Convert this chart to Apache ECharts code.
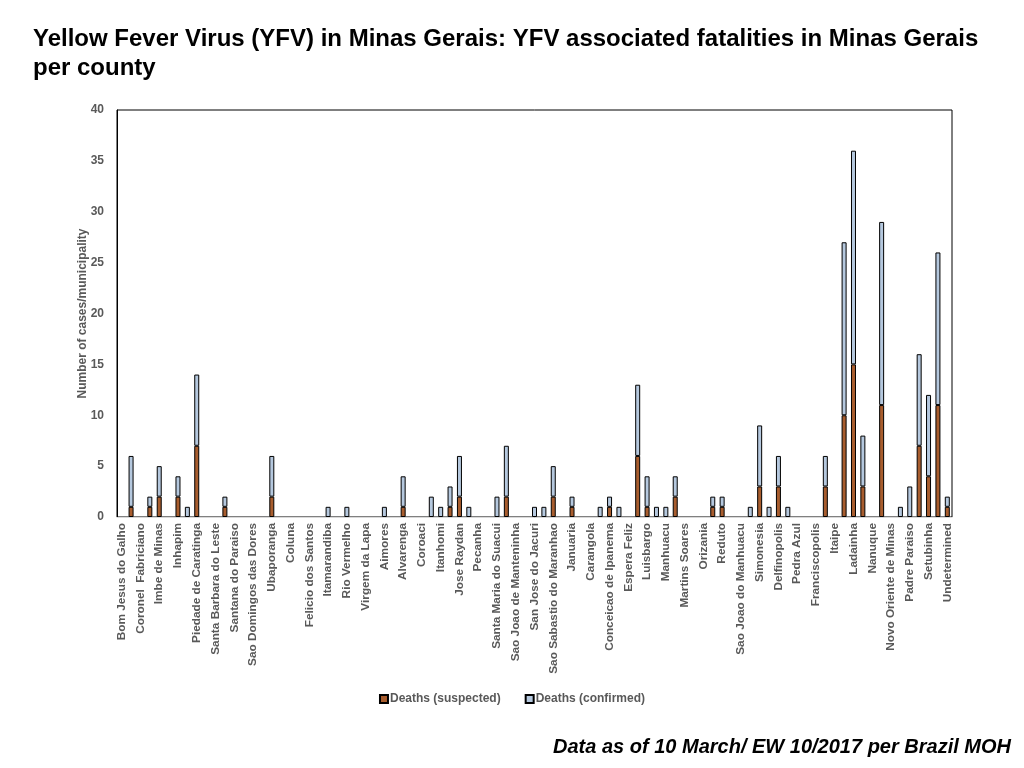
<!DOCTYPE html>
<html>
<head>
<meta charset="utf-8">
<title>YFV fatalities in Minas Gerais per county</title>
<script src="https://cdn.jsdelivr.net/npm/echarts@6/dist/echarts.min.js"></script>
<style>
    html, body { margin: 0; padding: 0; background: #fff; }
    #chart { width: 1024px; height: 768px; }
</style>
</head>
<body>
<div id="chart"></div>
<script>
// Counties (only every other name is printed on the original axis; '' = name not shown)
const counties = [
    'Bom Jesus do Galho', '', 'Coronel  Fabriciano', '', 'Imbe de Minas', '',
    'Inhapim', '', 'Piedade de Caratinga', '', 'Santa Barbara do Leste', '',
    'Santana do Paraiso', '', 'Sao Domingos das Dores', '', 'Ubaporanga', '',
    'Coluna', '', 'Felicio dos Santos', '', 'Itamarandiba', '',
    'Rio Vermelho', '', 'Virgem da Lapa', '', 'Aimores', '',
    'Alvarenga', '', 'Coroaci', '', 'Itanhomi', '',
    'Jose Raydan', '', 'Pecanha', '', 'Santa Maria do Suacui', '',
    'Sao Joao de Manteninha', '', 'San Jose do Jacuri', '', 'Sao Sabastio do Maranhao', '',
    'Januaria', '', 'Carangola', '', 'Conceicao de Ipanema', '',
    'Espera Feliz', '', 'Luisbargo', '', 'Manhuacu', '',
    'Martins Soares', '', 'Orizania', '', 'Reduto', '',
    'Sao Joao do Manhuacu', '', 'Simonesia', '', 'Delfinopolis', '',
    'Pedra Azul', '', 'Franciscopolis', '', 'Itaipe', '',
    'Ladainha', '', 'Nanuque', '', 'Novo Oriente de Minas', '',
    'Padre Paraiso', '', 'Setubinha', '', 'Undetermined'
];

// Deaths (suspected)
const deathsSuspected = [
    0, 1, 0, 1, 2, 0, 2, 0, 7, 0,
    0, 1, 0, 0, 0, 0, 2, 0, 0, 0,
    0, 0, 0, 0, 0, 0, 0, 0, 0, 0,
    1, 0, 0, 0, 0, 1, 2, 0, 0, 0,
    0, 2, 0, 0, 0, 0, 2, 0, 1, 0,
    0, 0, 1, 0, 0, 6, 1, 0, 0, 2,
    0, 0, 0, 1, 1, 0, 0, 0, 3, 0,
    3, 0, 0, 0, 0, 3, 0, 10, 15, 3,
    0, 11, 0, 0, 0, 7, 4, 11, 1
];

// Deaths (confirmed)
const deathsConfirmed = [
    0, 5, 0, 1, 3, 0, 2, 1, 7, 0,
    0, 1, 0, 0, 0, 0, 4, 0, 0, 0,
    0, 0, 1, 0, 1, 0, 0, 0, 1, 0,
    3, 0, 0, 2, 1, 2, 4, 1, 0, 0,
    2, 5, 0, 0, 1, 1, 3, 0, 1, 0,
    0, 1, 1, 1, 0, 7, 3, 1, 1, 2,
    0, 0, 0, 1, 1, 0, 0, 1, 6, 1,
    3, 1, 0, 0, 0, 3, 0, 17, 21, 5,
    0, 18, 0, 1, 3, 9, 8, 15, 1
];

const seriesNames = ['Deaths (suspected)', 'Deaths (confirmed)'];

const colors = {
    suspected: '#a85d2e',
    confirmed: '#b5c8de',
    label: '#595959'
};

const font = '"Liberation Sans", Arial, sans-serif';

// zero counts draw nothing in the original
const noZero = arr => arr.map(v => (v === 0 ? null : v));

const chart = echarts.init(document.getElementById('chart'));

const option = {
    backgroundColor: '#fff',
    animation: false,
    textStyle: { fontFamily: font },
    title: [
        {
            text: 'Yellow Fever Virus (YFV) in Minas Gerais: YFV associated fatalities in Minas Gerais\nper county',
            left: 28,
            top: 20,
            textStyle: {
                fontFamily: font,
                fontSize: 24,
                fontWeight: 'bold',
                color: '#000',
                lineHeight: 29
            }
        },
        {
            text: 'Data as of 10 March/ EW 10/2017 per Brazil MOH',
            right: 8,
            top: 732,
            textStyle: {
                fontFamily: font,
                fontSize: 20,
                fontWeight: 'bold',
                fontStyle: 'italic',
                color: '#000'
            }
        }
    ],
    legend: {
        data: seriesNames,
        top: 688,
        left: 'center',
        icon: 'rect',
        itemWidth: 8,
        itemHeight: 8,
        itemGap: 24,
        textStyle: {
            fontFamily: font,
            fontSize: 12,
            fontWeight: 'bold',
            color: colors.label,
            padding: [0, 0, 0, -3]
        }
    },
    grid: {
        left: 117,
        right: 72,
        top: 110,
        bottom: 251,
        show: true,
        borderColor: '#000',
        borderWidth: 1,
        backgroundColor: 'transparent'
    },
    xAxis: {
        type: 'category',
        data: counties,
        axisLine: { lineStyle: { color: '#d9d9d9', width: 1 } },
        axisTick: { show: false },
        axisLabel: {
            interval: 0,
            rotate: 90,
            margin: 6,
            fontFamily: font,
            fontSize: 11.8,
            fontWeight: 'bold',
            color: colors.label
        }
    },
    yAxis: {
        type: 'value',
        min: 0,
        max: 40,
        interval: 5,
        name: 'Number of cases/municipality',
        nameLocation: 'middle',
        nameGap: 28,
        nameMoveOverlap: false,
        nameTextStyle: {
            fontFamily: font,
            fontSize: 12,
            fontWeight: 'bold',
            color: colors.label
        },
        axisLine: { show: true, lineStyle: { color: '#000', width: 1 } },
        axisTick: { show: false },
        splitLine: { show: false },
        axisLabel: {
            margin: 13,
            fontFamily: font,
            fontSize: 12,
            fontWeight: 'bold',
            color: colors.label
        }
    },
    series: [
        {
            name: seriesNames[0],
            type: 'bar',
            stack: 'deaths',
            barWidth: 5,
            data: noZero(deathsSuspected),
            itemStyle: { color: colors.suspected, borderColor: '#000', borderWidth: 1 }
        },
        {
            name: seriesNames[1],
            type: 'bar',
            stack: 'deaths',
            barWidth: 5,
            data: noZero(deathsConfirmed),
            itemStyle: { color: colors.confirmed, borderColor: '#000', borderWidth: 1 }
        }
    ]
};

chart.setOption(option);

window.addEventListener('resize', () => {
    chart.resize();
});
</script>
</body>
</html>
